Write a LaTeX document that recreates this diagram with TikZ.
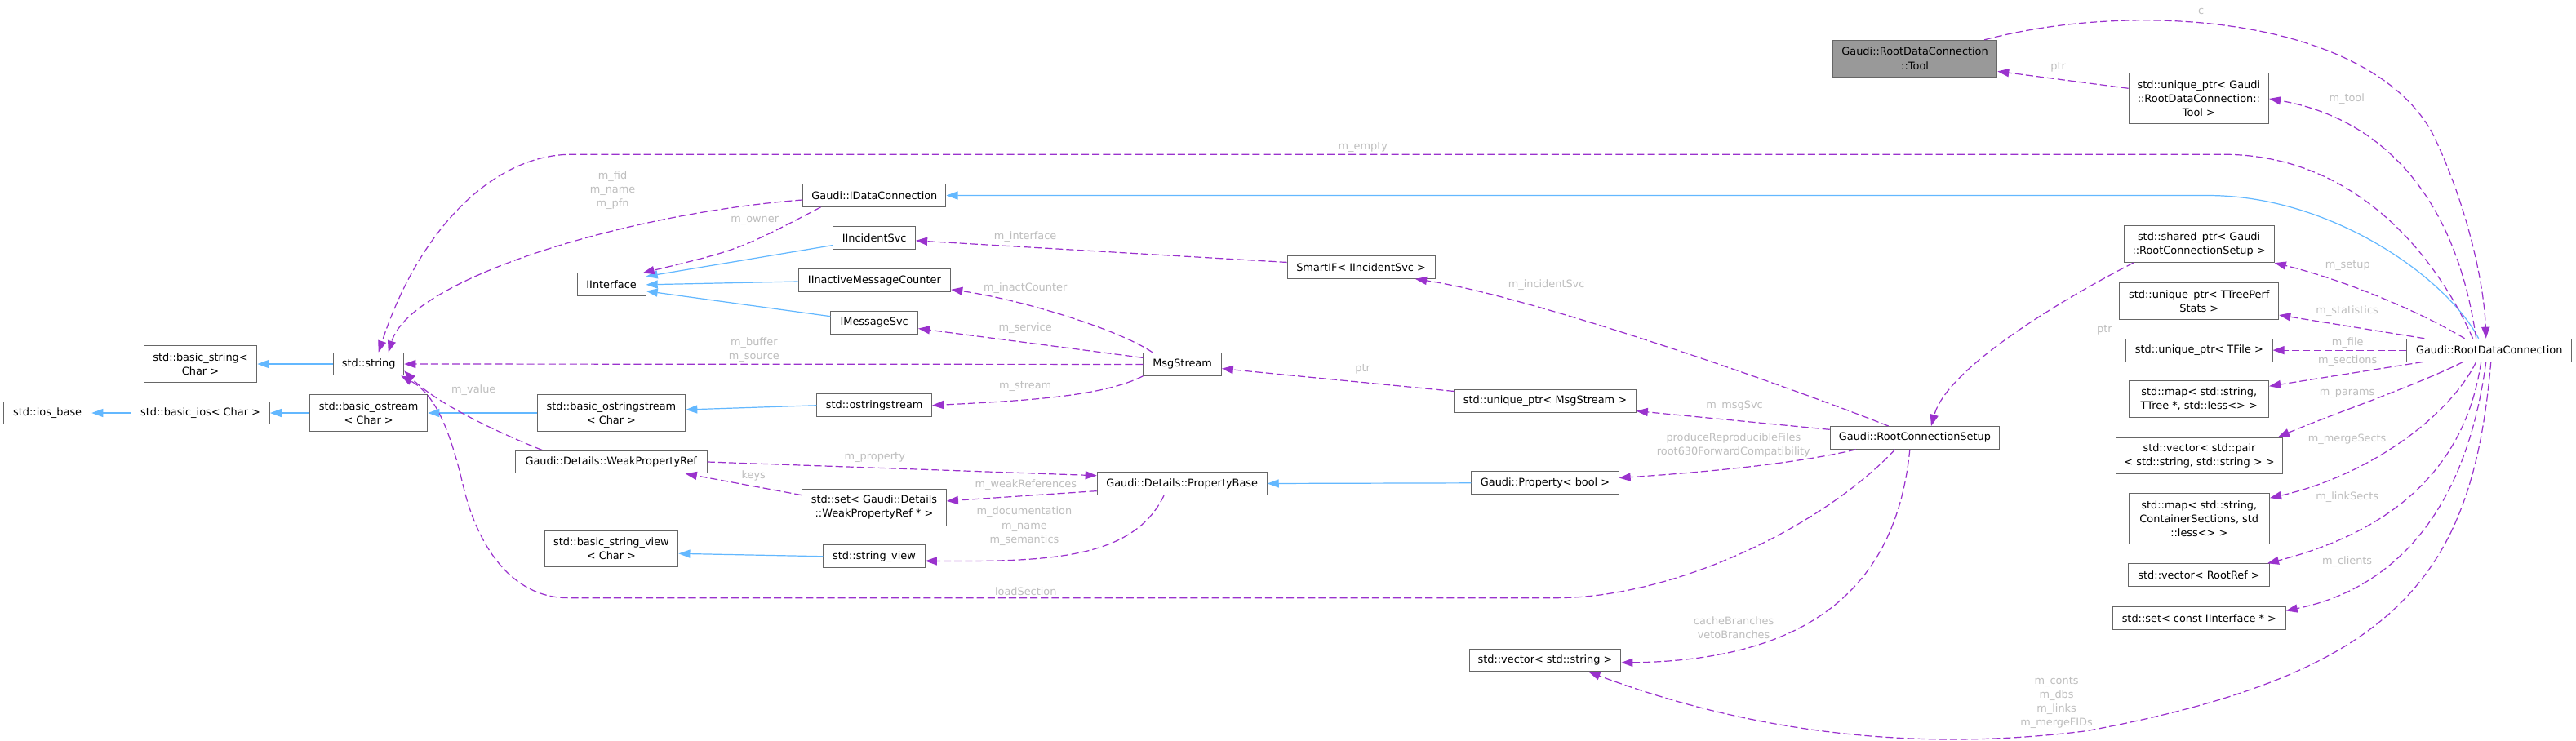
\documentclass[tikz,border=0pt]{standalone}
\usepackage{fontspec}
\setmainfont{DejaVu Sans}
\usetikzlibrary{arrows.meta}

\definecolor{boxgray}{HTML}{666666}
\definecolor{toolgray}{HTML}{999999}
\definecolor{inhblue}{HTML}{63B8FF}
\definecolor{usepurple}{HTML}{9A32CD}
\definecolor{lblgray}{HTML}{BEBEBE}

\begin{document}
\begin{tikzpicture}[x=1pt, y=-1pt,
    font=\fontsize{6.4}{8.5}\selectfont,
    cls/.style={draw=boxgray, line width=0.5pt, fill=white, inner sep=0pt, minimum height=13.8pt, align=center},
    cls2/.style={cls, minimum height=22.2pt},
    cls3/.style={cls, minimum height=30.8pt},
    inh/.style={draw=inhblue, line width=0.6pt, -{Triangle[length=7pt,width=5pt]}},
    member/.style={draw=usepurple, line width=0.6pt, dash pattern=on 4.5pt off 2pt, -{Triangle[length=7pt,width=5pt]}},
    lbl/.style={text=lblgray, inner sep=0pt, align=center}]

    \useasboundingbox (0,0) rectangle (1568,451);
    \fill[white] (0,0) rectangle (1568,451);

    % Standard library
    \node[cls, minimum width=53.3pt] (iosbase) at (28.9,251.4) {std::ios\_base};
    \node[cls, minimum width=84.3pt] (basicios) at (122,251.4) {std::basic\_ios< Char >};
    \node[cls2, minimum width=71.7pt] (basicostream) at (224.4,251.4) {std::basic\_ostream\\< Char >};
    \node[cls2, minimum width=68.8pt] (basicstring) at (122,221.6) {std::basic\_string<\\Char >};
    \node[cls, minimum width=42.8pt] (stdstring) at (224.4,221.6) {std::string};
    \node[cls2, minimum width=90.2pt] (basicostringstream) at (372.1,251.4) {std::basic\_ostringstream\\< Char >};
    \node[cls2, minimum width=81.4pt] (basicsview) at (372.1,334.1) {std::basic\_string\_view\\< Char >};
    \node[cls, minimum width=69.8pt] (ostringstream) at (532.2,246.8) {std::ostringstream};
    \node[cls, minimum width=61.8pt] (sview) at (532.1,338.7) {std::string\_view};
    \node[cls, minimum width=92.1pt] (vecstring) at (940.5,401.9) {std::vector< std::string >};

    % Interfaces
    \node[cls, minimum width=41.7pt] (iinterface) at (372.2,173.3) {IInterface};
    \node[cls, minimum width=87pt] (idataconn) at (532.3,119) {Gaudi::IDataConnection};
    \node[cls, minimum width=50pt] (iincsvc) at (532.2,144.8) {IIncidentSvc};
    \node[cls, minimum width=92.7pt] (iinactive) at (532.3,170.7) {IInactiveMessageCounter};
    \node[cls, minimum width=53pt] (imsgsvc) at (532.2,196.5) {IMessageSvc};
    \node[cls, minimum width=89.9pt] (smartif) at (828.5,162.7) {SmartIF< IIncidentSvc >};

    % Messaging and properties
    \node[cls, minimum width=47.4pt] (msgstream) at (719.7,221.8) {MsgStream};
    \node[cls, minimum width=110.5pt] (upmsg) at (940.5,244.2) {std::unique\_ptr< MsgStream >};
    \node[cls, minimum width=116.7pt] (weakref) at (372,281.2) {Gaudi::Details::WeakPropertyRef};
    \node[cls2, minimum width=87.8pt] (setweak) at (532.1,308.9) {std::set< Gaudi::Details\\::WeakPropertyRef * >};
    \node[cls, minimum width=103.3pt] (propbase) at (719.5,294.5) {Gaudi::Details::PropertyBase};
    \node[cls, minimum width=89.5pt] (propbool) at (940.5,293.9) {Gaudi::Property< bool >};

    % Root connection classes
    \node[cls2, fill=toolgray, minimum width=100pt] (tool) at (1165.6,35.6) {Gaudi::RootDataConnection\\::Tool};
    \node[cls, minimum width=103pt] (setup) at (1165.5,266.5) {Gaudi::RootConnectionSetup};
    \node[cls3, minimum width=85.2pt] (uptool) at (1338.4,60.1) {std::unique\_ptr< Gaudi\\::RootDataConnection::\\Tool >};
    \node[cls2, minimum width=91.5pt] (spsetup) at (1338.5,148.7) {std::shared\_ptr< Gaudi\\::RootConnectionSetup >};
    \node[cls2, minimum width=96.8pt] (upstats) at (1338.6,183.2) {std::unique\_ptr< TTreePerf\\Stats >};
    \node[cls, minimum width=89.2pt] (upfile) at (1338.6,213.2) {std::unique\_ptr< TFile >};
    \node[cls2, minimum width=84.8pt] (mapsect) at (1338.6,242.9) {std::map< std::string,\\TTree *, std::less<> >};
    \node[cls2, minimum width=101.3pt] (vecpair) at (1338.7,277.4) {std::vector< std::pair\\< std::string, std::string > >};
    \node[cls3, minimum width=85.6pt] (mapcont) at (1338.6,315.8) {std::map< std::string,\\ContainerSections, std\\::less<> >};
    \node[cls, minimum width=85.8pt] (vecref) at (1338.5,350.1) {std::vector< RootRef >};
    \node[cls, minimum width=105.2pt] (setclients) at (1338.6,376.2) {std::set< const IInterface * >};
    \node[cls, minimum width=100.4pt] (rdc) at (1515.2,213.2) {Gaudi::RootDataConnection};

    % Inheritance
    \draw[inh] (basicios) -- (iosbase);
    \draw[inh] (basicostream) -- (basicios);
    \draw[inh] (stdstring) -- (basicstring);
    \draw[inh] (basicostringstream) -- (basicostream);
    \draw[inh] (ostringstream.west) -- ([yshift=2pt]basicostringstream.east);
    \draw[inh] (sview.west) -- ([yshift=-2.9pt]basicsview.east);
    \draw[inh] (propbool) -- (propbase);
    \draw[inh] ([yshift=-4.5pt]iincsvc.west) -- ([yshift=5pt]iinterface.east);
    \draw[inh] ([yshift=-0.7pt]iinactive.west) -- (iinterface.east);
    \draw[inh] ([yshift=3.9pt]imsgsvc.west) -- ([yshift=-3.9pt]iinterface.east);
    \draw[inh] ([xshift=-6.5pt]rdc.north) .. controls (1490,170) and (1420,119) .. (1344,119) -- (idataconn.east);

    % Members of RootDataConnection
    \draw[member] ([xshift=-8pt]tool.north east) .. controls (1300,0) and (1440,10) .. (1480,80) .. controls (1500,120) and (1512,170) .. ([xshift=-2pt]rdc.north);
    \node[lbl] (lc) at (1339.8,7) {c};
    \draw[member] ([xshift=-8pt]rdc.north) .. controls (1495,120) and (1450,72) .. (uptool.east);
    \node[lbl] (ltool) at (1428.5,60) {m\_tool};
    \draw[member] ([yshift=6.3pt]uptool.west) -- ([yshift=-7.8pt]tool.east);
    \node[lbl] (lptrtool) at (1252.8,41) {ptr};
    \draw[member] ([xshift=-10pt]rdc.north) .. controls (1480,150) and (1430,94) .. (1353,94) -- (348,94) .. controls (300,94) and (255,140) .. ([xshift=6pt]stdstring.north);
    \node[lbl] (lempty) at (829.6,89.9) {m\_empty};
    \draw[member] ([xshift=-15pt]rdc.north) .. controls (1470,188) and (1425,170) .. (spsetup.south east);
    \node[lbl] (lsetup) at (1429,161.8) {m\_setup};
    \draw[member] ([xshift=11pt]rdc.north west) -- ([yshift=-8.6pt]upstats.east);
    \node[lbl] (lstats) at (1428.7,189.4) {m\_statistics};
    \draw[member] (rdc.west) -- (upfile.east);
    \node[lbl] (lfile) at (1429,208.8) {m\_file};
    \draw[member] ([xshift=10pt]rdc.south west) -- ([yshift=7.8pt]mapsect.east);
    \node[lbl] (lsections) at (1429,219.9) {m\_sections};
    \draw[member] ([xshift=-16pt]rdc.south) .. controls (1470,235) and (1420,252) .. ([xshift=-3pt]vecpair.north east);
    \node[lbl] (lparams) at (1428.7,239.8) {m\_params};
    \draw[member] ([xshift=-8pt]rdc.south) .. controls (1490,255) and (1440,290) .. ([yshift=-3pt]mapcont.north east);
    \node[lbl] (lmerge) at (1428.7,267.6) {m\_mergeSects};
    \draw[member] ([xshift=-5pt]rdc.south) .. controls (1500,290) and (1450,325) .. ([xshift=-1.5pt]vecref.north east);
    \node[lbl] (llink) at (1428.7,302.7) {m\_linkSects};
    \draw[member] ([xshift=-2pt]rdc.south) .. controls (1500,320) and (1450,360) .. ([yshift=4.4pt]setclients.east);
    \node[lbl] (lclients) at (1428.7,342) {m\_clients};
    \draw[member] ([xshift=1pt]rdc.south) .. controls (1505,350) and (1460,410) .. (1270,445) .. controls (1150,460) and (1050,440) .. ([xshift=26.5pt]vecstring.south);
    \node[lbl] (lconts) at (1251.8,427.8) {m\_conts\\m\_dbs\\m\_links\\m\_mergeFIDs};

    % Members of RootConnectionSetup
    \draw[member] ([xshift=6pt]spsetup.south west) .. controls (1250,185) and (1185,225) .. ([xshift=10pt]setup.north);
    \node[lbl] (lptrsetup) at (1281,201) {ptr};
    \draw[member] ([xshift=-16pt]setup.north) .. controls (1080,232) and (930,180) .. ([xshift=33pt]smartif.south);
    \node[lbl] (lincsvc) at (941.3,173.4) {m\_incidentSvc};
    \draw[member] ([yshift=5pt]setup.west) -- ([yshift=-6pt]upmsg.east);
    \node[lbl] (lmsgsvc) at (1055.8,247.2) {m\_msgSvc};
    \draw[member] ([xshift=16pt]setup.south west) .. controls (1090,283) and (1030,288) .. ([yshift=3pt]propbool.east);
    \node[lbl] (lflags) at (1055.2,271.2) {produceReproducibleFiles\\root630ForwardCompatibility};
    \draw[member] ([xshift=-12pt]setup.south) .. controls (1110,320) and (1020,364) .. (947,364) -- (346,364) .. controls (310,364) and (290,330) .. (282,296) .. controls (274,262) and (265,240) .. ([xshift=-2pt]stdstring.south east);
    \node[lbl] (lload) at (624.4,359.8) {loadSection};
    \draw[member] ([xshift=-3pt]setup.south) .. controls (1155,350) and (1110,402) .. ([yshift=-1.5pt]vecstring.east);
    \node[lbl] (lbranches) at (1055.3,382.2) {cacheBranches\\vetoBranches};

    % Members of MsgStream
    \draw[member] ([yshift=6pt]upmsg.west) -- ([yshift=-2.6pt]msgstream.east);
    \node[lbl] (lptrmsg) at (829.5,224.9) {ptr};
    \draw[member] ([xshift=-18pt]msgstream.north) .. controls (680,200) and (620,182) .. ([yshift=-5.6pt]iinactive.east);
    \node[lbl] (linact) at (624.1,175.2) {m\_inactCounter};
    \draw[member] ([yshift=4pt]msgstream.west) -- ([yshift=-3.5pt]imsgsvc.east);
    \node[lbl] (lservice) at (624.1,200) {m\_service};
    \draw[member] (msgstream.west) -- (stdstring.east);
    \node[lbl] (lbuffer) at (459,213) {m\_buffer\\m\_source};
    \draw[member] (msgstream.south west) .. controls (670,242) and (620,244) .. (ostringstream.east);
    \node[lbl] (lstream) at (624.1,235.1) {m\_stream};
    \draw[member] ([yshift=3pt]smartif.west) -- ([yshift=-1.7pt]iincsvc.east);
    \node[lbl] (linterface) at (624.1,144) {m\_interface};

    % Members of IDataConnection
    \draw[member] ([yshift=-2.7pt]idataconn.west) .. controls (380,130) and (250,170) .. ([xshift=12pt]stdstring.north);
    \node[lbl] (lfid) at (372.9,115.9) {m\_fid\\m\_name\\m\_pfn};
    \draw[member] ([xshift=11pt]idataconn.south west) .. controls (450,152) .. ([xshift=-2pt]iinterface.north east);
    \node[lbl] (lowner) at (459.4,134.4) {m\_owner};

    % Property members
    \draw[member] (weakref.east) -- ([yshift=5pt]propbase.west);
    \node[lbl] (lproperty) at (532.5,278.3) {m\_property};
    \draw[member] ([yshift=-4.4pt]propbase.west) -- ([yshift=3.9pt]setweak.east);
    \node[lbl] (lweak) at (624.4,295.4) {m\_weakReferences};
    \draw[member] ([yshift=7.5pt]setweak.west) -- ([xshift=-13.4pt]weakref.south east);
    \node[lbl] (lkeys) at (458.7,289.5) {keys};
    \draw[member] ([xshift=-11pt]propbase.south) .. controls (690,340) and (640,342) .. ([yshift=-2.8pt]sview.east);
    \node[lbl] (ldoc) at (623.5,320.3) {m\_documentation\\m\_name\\m\_semantics};
    \draw[member] ([xshift=16.7pt]weakref.north west) .. controls (300,262) and (265,245) .. ([yshift=3pt]stdstring.south east);
    \node[lbl] (lvalue) at (288.3,237.6) {m\_value};
\end{tikzpicture}
\end{document}
